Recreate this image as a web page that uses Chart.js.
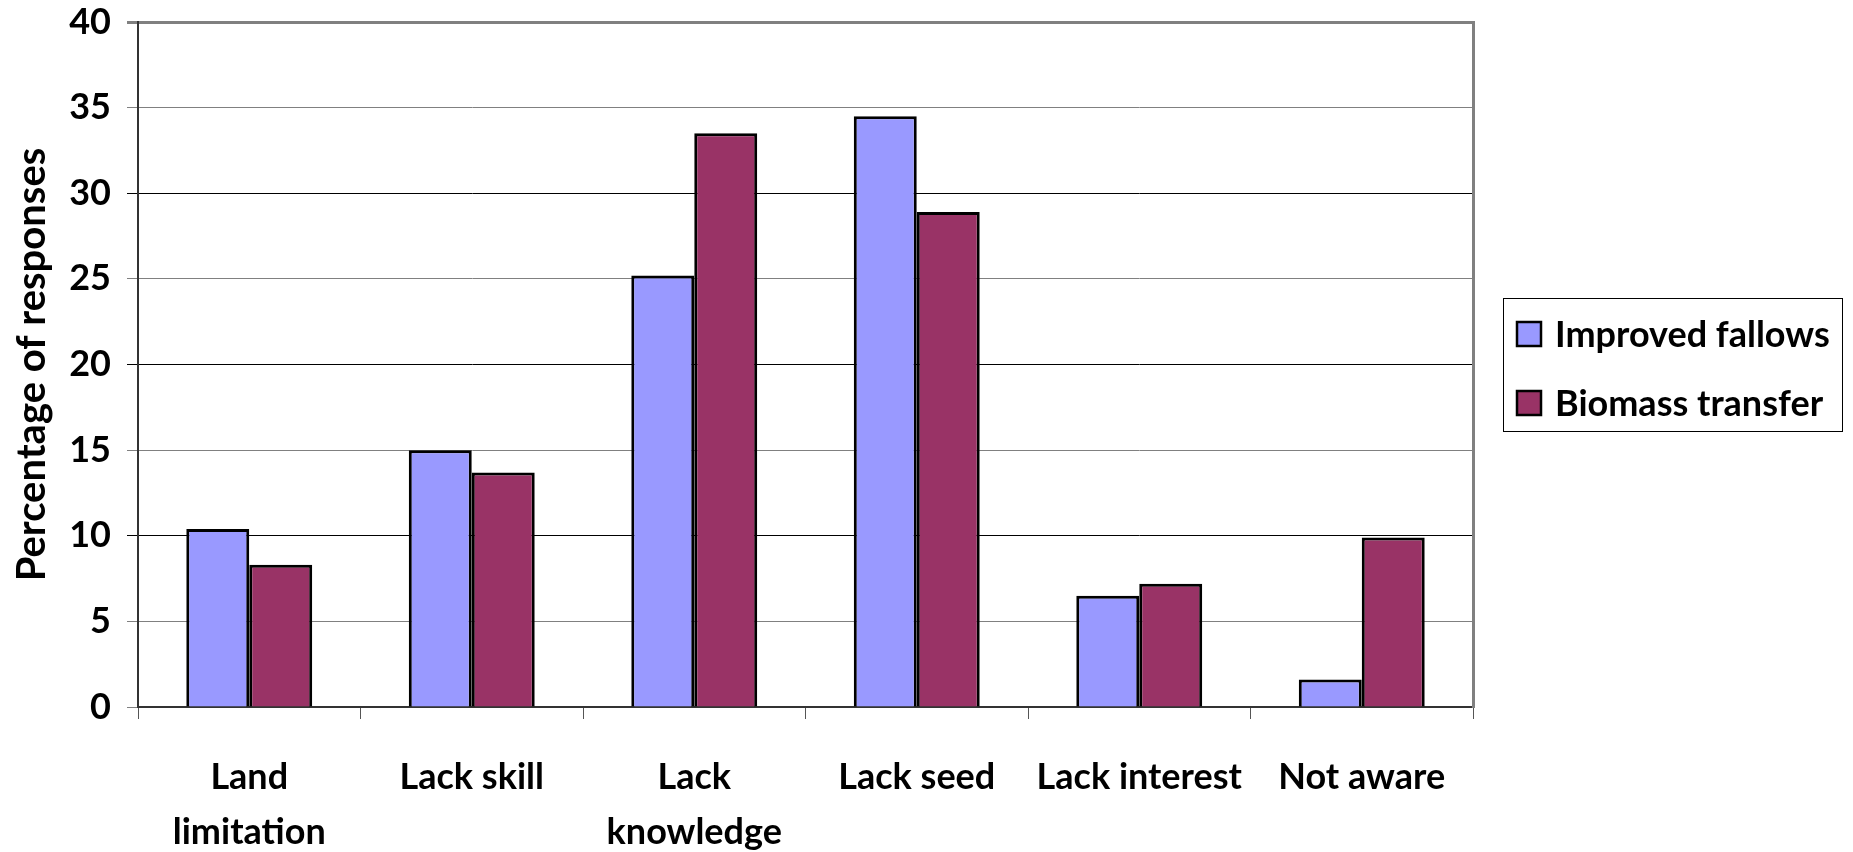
<!DOCTYPE html>
<html>
<head>
<meta charset="utf-8">
<script src="https://cdn.jsdelivr.net/npm/chart.js@4.4.1/dist/chart.umd.min.js"></script>
<style>
  html, body { margin: 0; padding: 0; background: #ffffff; }
  #wrap { width: 1853px; height: 852px; }
</style>
</head>
<body>
<div id="wrap"><canvas id="chart" width="1853" height="852"></canvas></div>
<script>
// Constraints reported for each agroforestry practice
const categories = [['Land', 'limitation'], 'Lack skill', ['Lack', 'knowledge'], 'Lack seed', 'Lack interest', 'Not aware'];
const seriesNames = ['Improved fallows', 'Biomass transfer'];
const improvedFallows = [10.4, 15.0, 25.2, 34.5, 6.5, 1.6];
const biomassTransfer = [8.3, 13.7, 33.5, 28.9, 7.2, 9.9];
const yTicks = [0, 5, 10, 15, 20, 25, 30, 35, 40];

const FONT = 'Lato';
const seriesColors = ['#9999FF', '#993366'];

// Boxed legend drawn to the right of the plot area
const boxedLegend = {
  id: 'boxedLegend',
  afterDraw(chart) {
    const ctx = chart.ctx;
    const area = chart.chartArea;
    const left = area.right + 30;
    const width = 339;
    const height = 133;
    const top = (area.top + area.bottom) / 2 - height / 2;
    ctx.save();
    ctx.strokeStyle = '#000000';
    ctx.lineWidth = 1;
    ctx.strokeRect(left + 0.5, top + 0.5, width, height);
    ctx.font = 'bold 36px ' + FONT;
    ctx.textBaseline = 'middle';
    ctx.textAlign = 'left';
    chart.data.datasets.forEach((ds, i) => {
      const cy = top + 36 + i * 69;
      ctx.fillStyle = ds.backgroundColor;
      ctx.fillRect(left + 14, cy - 12, 24, 24);
      ctx.lineWidth = 2.5;
      ctx.strokeStyle = '#000000';
      ctx.strokeRect(left + 14, cy - 12, 24, 24);
      ctx.fillStyle = '#000000';
      ctx.fillText(ds.label, left + 52, cy + 1);
    });
    ctx.restore();
  }
};

// Vertical scales keep the plot edge fixed instead of reserving room for half labels
function trimVerticalPadding(scale) {
  scale.paddingTop = 0;
  scale.paddingBottom = 0;
}

new Chart(document.getElementById('chart'), {
  type: 'bar',
  data: {
    labels: categories,
    datasets: [
      { label: seriesNames[0], data: improvedFallows, backgroundColor: seriesColors[0], borderColor: '#000000', borderWidth: 3 },
      { label: seriesNames[1], data: biomassTransfer, backgroundColor: seriesColors[1], borderColor: '#000000', borderWidth: 3 }
    ]
  },
  options: {
    responsive: false,
    animation: false,
    devicePixelRatio: 1,
    layout: { padding: { top: 22, right: 380, bottom: 0, left: 0 } },
    datasets: { bar: { categoryPercentage: 0.566, barPercentage: 1.0 } },
    plugins: {
      legend: { display: false },
      tooltip: { enabled: false }
    },
    scales: {
      x: {
        offset: true,
        grid: { offset: true, drawOnChartArea: false, drawTicks: true, tickLength: 12, color: '#555555', lineWidth: 1 },
        border: { color: '#333333', width: 2 },
        ticks: { color: '#000000', padding: 31, font: { family: FONT, size: 36, weight: 'bold', lineHeight: 1.53 }, maxRotation: 0, autoSkip: false },
        afterFit(scale) { scale.height = 145; scale.paddingLeft = 0; scale.paddingRight = 0; }
      },
      y: {
        min: 0,
        max: 40,
        afterBuildTicks(scale) { scale.ticks = yTicks.map(v => ({ value: v })); },
        grid: {
          drawTicks: true,
          tickLength: 11,
          color: ctx => (ctx.tick && (ctx.tick.value === 10 || ctx.tick.value === 20 || ctx.tick.value === 30)) ? '#000000' : '#808080',
          lineWidth: ctx => (ctx.tick && ctx.tick.value === 40) ? 3 : 1
        },
        border: { color: '#333333', width: 2 },
        ticks: { color: '#000000', padding: 16, font: { family: FONT, size: 36, weight: 'bold' } },
        title: {
          display: true,
          text: 'Percentage of responses',
          color: '#000000',
          font: { family: FONT, size: 40, weight: 'bold' },
          padding: { top: 8, bottom: 0 }
        },
        afterFit(scale) { scale.width = 138; trimVerticalPadding(scale); }
      },
      yRight: {
        position: 'right',
        min: 0,
        max: 40,
        grid: { display: false, drawTicks: false },
        ticks: { display: false },
        border: { color: '#808080', width: 3 },
        afterFit(scale) { scale.width = 0; trimVerticalPadding(scale); }
      }
    }
  },
  plugins: [boxedLegend]
});
</script>
</body>
</html>
